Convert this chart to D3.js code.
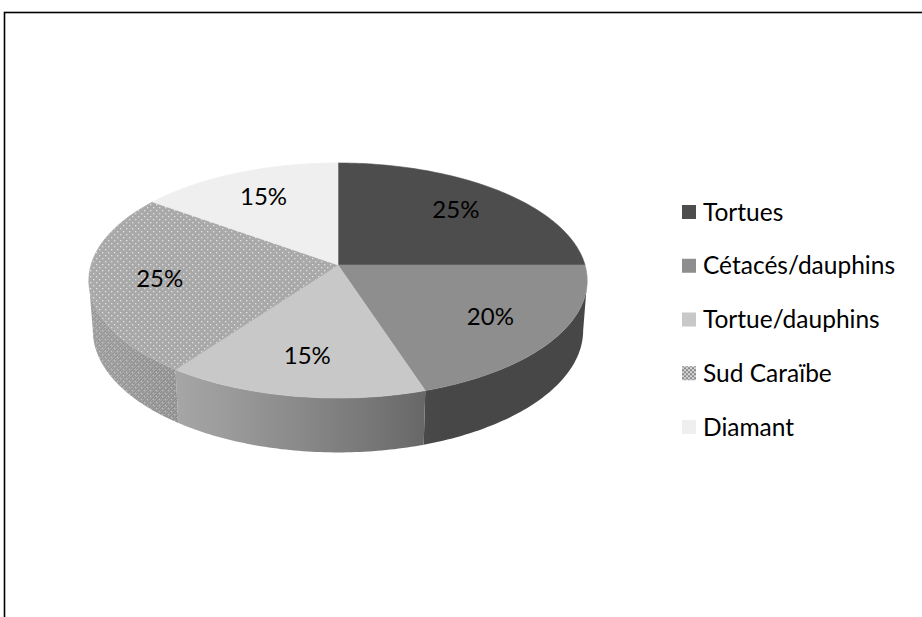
<!DOCTYPE html>
<html>
<head>
<meta charset="utf-8">
<script src="https://cdn.jsdelivr.net/npm/d3@7"></script>
<style>
  html, body { margin: 0; padding: 0; background: #fff; }
  svg { display: block; }
  text { font-family: Lato, "Liberation Sans", sans-serif; }
</style>
</head>
<body>
<div class="chart"></div>
<script>
  var categories = ["Tortues", "Cétacés/dauphins", "Tortue/dauphins", "Sud Caraïbe", "Diamant"];
  var values = [25, 20, 15, 25, 15];
  var topColors = ["#4d4d4d", "#8e8e8e", "#c8c8c8", "#a9a9a9", "#efefef"];

  var width = 922, height = 617;
  var svg = d3.select(".chart").append("svg").attr("width", width).attr("height", height);

  // patterns for the "Sud Caraïbe" slice
  var defs = svg.append("defs");
  var dots = defs.append("pattern").attr("id", "dots").attr("patternUnits", "userSpaceOnUse")
    .attr("width", 6).attr("height", 6);
  dots.append("rect").attr("x", 0).attr("y", 0).attr("width", 1.3).attr("height", 1.3).style("fill", "#e2e2e2");
  dots.append("rect").attr("x", 3).attr("y", 3).attr("width", 1.3).attr("height", 1.3).style("fill", "#e2e2e2");
  var hatch = defs.append("pattern").attr("id", "hatch").attr("patternUnits", "userSpaceOnUse")
    .attr("width", 3).attr("height", 3);
  hatch.append("path").attr("d", "M0,3 L3,0").style("stroke", "rgba(255,255,255,0.25)").style("stroke-width", 0.8);
  var checker = defs.append("pattern").attr("id", "checker").attr("patternUnits", "userSpaceOnUse")
    .attr("width", 4).attr("height", 4);
  checker.append("rect").attr("width", 4).attr("height", 4).style("fill", "#d8d8d8");
  checker.append("rect").attr("width", 2).attr("height", 2).style("fill", "#8a8a8a");
  checker.append("rect").attr("x", 2).attr("y", 2).attr("width", 2).attr("height", 2).style("fill", "#8a8a8a");

  // chart frame (runs off the right and bottom edges)
  svg.append("rect").attr("x", 4.5).attr("y", 12.5).attr("width", 940).attr("height", 640)
    .style("fill", "none").style("stroke", "#000").style("stroke-width", 1.6);

  // perspective projection of a disk lying flat
  var cx = 338, cy = 265, K = 247, D = 6.7, H = 0.23;
  var phi = Math.asin(0.4675);
  function proj(t, rho, Y) {
    var X = rho * Math.sin(t), Z = rho * Math.cos(t);
    var u = Y * Math.cos(phi) + Z * Math.sin(phi);
    var w = Z * Math.cos(phi) - Y * Math.sin(phi);
    var s = 1 / (1 + w / D);
    return [cx + K * X * s, cy - K * u * s];
  }

  var color = d3.scaleOrdinal().domain(categories).range(topColors);
  var pie = d3.pie().sort(null).value(function(d) { return d.value; });
  var data = categories.map(function(c, i) { return { name: c, value: values[i] }; });
  var arcs = pie(data);
  var total = d3.sum(values);
  var line = d3.line();

  function shade(t) {
    return 0.5 + 0.4 * Math.max(0, Math.cos(t - 250 * Math.PI / 180));
  }

  // silhouette angles of the rim (rightmost and leftmost)
  var ts = d3.range(0, 2 * Math.PI, 0.002);
  var tR = ts.filter(function(t) { return t < Math.PI; })
    .reduce(function(b, t) { return proj(t, 1, -H / 2)[0] > proj(b, 1, -H / 2)[0] ? t : b; }, 0);
  var tL = ts.filter(function(t) { return t >= Math.PI; })
    .reduce(function(b, t) { return proj(t, 1, -H / 2)[0] < proj(b, 1, -H / 2)[0] ? t : b; }, Math.PI);

  // front side walls, one path per slice, lit with a gradient
  var walls = svg.append("g");
  arcs.forEach(function(a, i) {
    var ta = Math.max(a.startAngle, tR), tb = Math.min(a.endAngle, tL);
    if (tb <= ta) return;
    var n = 60, topPts = [], botPts = [];
    for (var k = 0; k <= n; k++) {
      var t = ta + (tb - ta) * k / n;
      topPts.push(proj(t, 1, 0));
      botPts.push(proj(t, 1, -H));
    }
    var x1 = topPts[0][0], x2 = topPts[n][0];
    var c = d3.rgb(color(a.data.name));
    var grad = defs.append("linearGradient").attr("id", "wall" + i)
      .attr("gradientUnits", "userSpaceOnUse")
      .attr("x1", x1).attr("y1", 0).attr("x2", x2).attr("y2", 0);
    for (var k2 = 0; k2 <= n; k2 += 4) {
      var tt = ta + (tb - ta) * k2 / n;
      var f = shade(tt);
      grad.append("stop").attr("offset", (topPts[k2][0] - x1) / (x2 - x1))
        .attr("stop-color", d3.rgb(c.r * f, c.g * f, c.b * f).toString());
    }
    var d = line(topPts.concat(botPts.reverse())) + "Z";
    walls.append("path").attr("d", d).style("fill", "url(#wall" + i + ")");
    if (a.data.name === "Sud Caraïbe") {
      walls.append("path").attr("d", d).style("fill", "url(#hatch)");
      walls.append("path").attr("d", d).style("fill", "url(#dots)").style("opacity", 0.55);
    }
  });

  // top faces
  function topPoints(a) {
    var pts = [proj(0, 0, 0)];
    var n = 80;
    for (var k = 0; k <= n; k++) {
      pts.push(proj(a.startAngle + (a.endAngle - a.startAngle) * k / n, 1, 0));
    }
    return pts;
  }
  var tops = svg.append("g");
  arcs.forEach(function(a) {
    var fill = color(a.data.name);
    tops.append("path").attr("d", line(topPoints(a)) + "Z").style("fill", fill).style("stroke", fill).style("stroke-width", 0.6);
    if (a.data.name === "Sud Caraïbe") {
      tops.append("path").attr("d", line(topPoints(a)) + "Z").style("fill", "url(#dots)");
    }
  });

  // percentage labels
  var pct = d3.format(".0%");
  svg.append("g").selectAll("text").data(arcs).enter().append("text")
    .attr("x", function(a) { return proj((a.startAngle + a.endAngle) / 2, 0.72, 0)[0]; })
    .attr("y", function(a) { return proj((a.startAngle + a.endAngle) / 2, 0.72, 0)[1]; })
    .attr("text-anchor", "middle").attr("dy", "0.35em")
    .style("font-size", "24px").style("fill", "#000")
    .text(function(a) { return pct(a.data.value / total); });

  // legend
  var ly = d3.scalePoint().domain(categories).range([212, 427]);
  var legend = svg.append("g").selectAll("g").data(categories).enter().append("g")
    .attr("transform", function(d) { return "translate(682," + ly(d) + ")"; });
  legend.append("rect").attr("x", 0).attr("y", -7).attr("width", 14).attr("height", 14)
    .style("fill", function(d) { return d === "Sud Caraïbe" ? "url(#checker)" : color(d); });
  legend.append("text").attr("x", 21).attr("dy", "0.35em")
    .style("font-size", "24.5px").style("fill", "#000")
    .text(function(d) { return d; });
</script>
</body>
</html>
